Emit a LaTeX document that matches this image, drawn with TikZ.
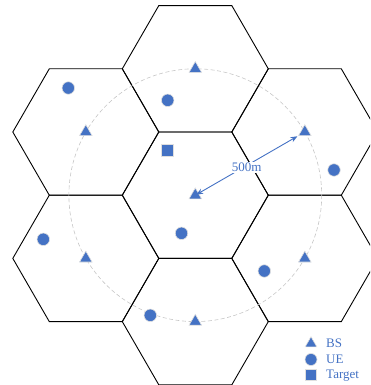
\documentclass[tikz,border=0pt]{standalone}
\usepackage{fontspec}
\setmainfont{Liberation Serif}
\usetikzlibrary{shapes.geometric,arrows.meta}
\definecolor{mblue}{HTML}{4472C4}
\begin{document}
\begin{tikzpicture}[x=1pt,y=-1pt,
  hexcell/.style={draw=black,line width=0.9pt,line join=miter},
  bsmark/.style={regular polygon,regular polygon sides=3,fill=mblue,draw=gray!25,line width=0.6pt,minimum size=14.5pt,inner sep=0pt},
  uemark/.style={circle,fill=mblue,draw=gray!25,line width=0.6pt,minimum size=12.5pt,inner sep=0pt},
  tgmark/.style={rectangle,fill=mblue,draw=gray!25,line width=0.6pt,minimum size=12pt,inner sep=0pt},
  lbl/.style={text=mblue,font=\fontsize{13}{15}\selectfont,inner sep=1.5pt},
  ringline/.style={draw=gray!45,line width=0.6pt,dash pattern=on 4pt off 2.5pt},
  dist/.style={draw=mblue,line width=0.9pt,{Stealth[length=7pt,width=5.5pt]}-{Stealth[length=7pt,width=5.5pt]}}]
\useasboundingbox (0,0) rectangle (370,385);
\clip (0,0) rectangle (370,385);
% cell centres
\coordinate (hc) at (195.3,195.2);
\coordinate (ht) at (195.3,68.8);
\coordinate (hb) at (195.3,321.6);
\coordinate (hul) at (85.8,132);
\coordinate (hll) at (85.8,258.4);
\coordinate (hur) at (304.8,132);
\coordinate (hlr) at (304.8,258.4);
% hexagonal cells
\foreach \c in {hc,ht,hb,hul,hll,hur,hlr}
  \draw[hexcell] (\c) +(0:73) -- +(60:73) -- +(120:73) -- +(180:73) -- +(240:73) -- +(300:73) -- cycle;
% dashed ring
\draw[ringline] (hc) circle[radius=126.4];
% base stations
\node[bsmark] (bsc) at (hc) {};
\node[bsmark] (bst) at (ht) {};
\node[bsmark] (bsb) at (hb) {};
\node[bsmark] (bsul) at (hul) {};
\node[bsmark] (bsll) at (hll) {};
\node[bsmark] (bsur) at (hur) {};
\node[bsmark] (bslr) at (hlr) {};
% user equipments
\node[uemark] (ue1) at (68.3,88) {};
\node[uemark] (ue2) at (167.7,100.3) {};
\node[uemark] (ue3) at (334,170) {};
\node[uemark] (ue4) at (181.5,233.3) {};
\node[uemark] (ue5) at (43.3,239.3) {};
\node[uemark] (ue6) at (264.3,271) {};
\node[uemark] (ue7) at (150.3,315.3) {};
% target
\node[tgmark] (tg) at (167.7,150.7) {};
% distance arrow
\draw[dist,shorten <=1pt,shorten >=8.5pt] (bsc.center) -- (bsur.center);
\node[lbl,fill=white,anchor=base] (dlabel) at (246.7,171.7) {500m};
% legend
\node[bsmark,minimum size=13.5pt] (lgbs) at (311,343.5) {};
\node[uemark,minimum size=12pt] (lgue) at (311,359.5) {};
\node[tgmark,minimum size=11.5pt] (lgtg) at (311,375) {};
\node[lbl,anchor=base west] (lgbst) at (324.5,347.7) {BS};
\node[lbl,anchor=base west] (lguet) at (324.5,363.3) {UE};
\node[lbl,anchor=base west] (lgtgt) at (324.5,378.5) {Target};
\end{tikzpicture}
\end{document}
